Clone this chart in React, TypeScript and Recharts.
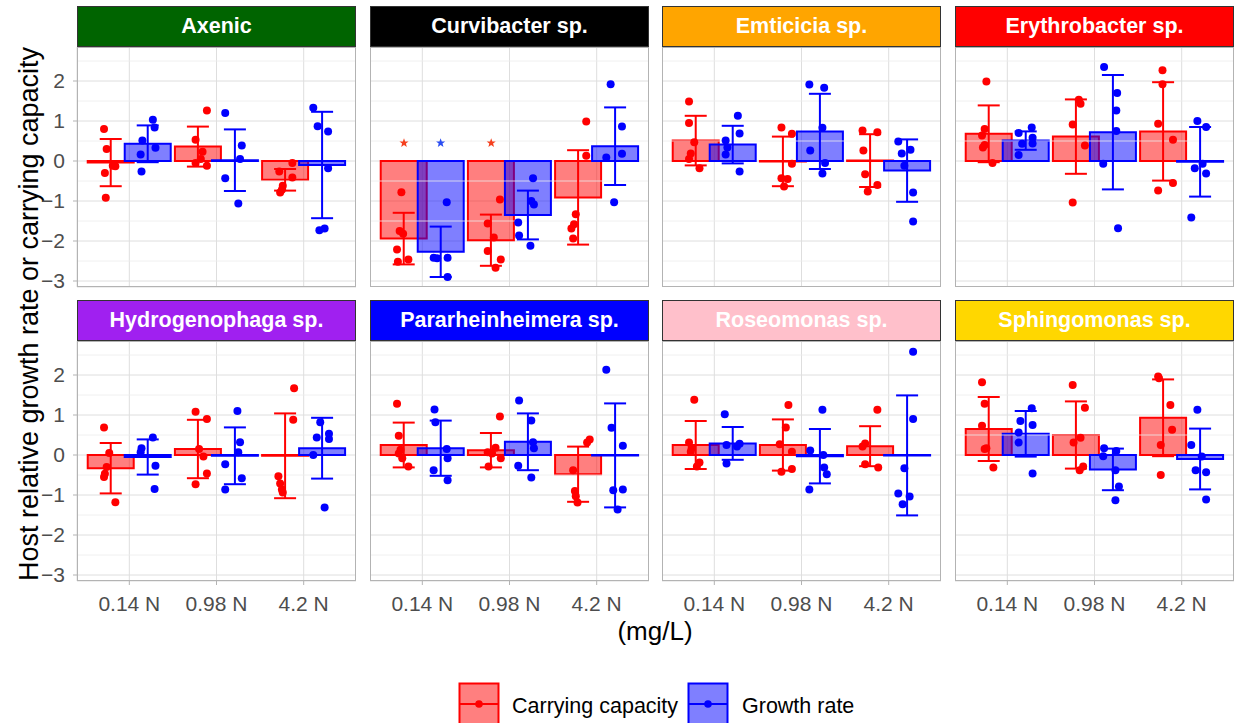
import React from "react";
import {
  ComposedChart,
  Bar,
  ErrorBar,
  Scatter,
  XAxis,
  YAxis,
  CartesianGrid,
  ReferenceLine,
} from "recharts";

const FONT = '"Liberation Sans", Arial, Helvetica, sans-serif';

// ---------- data ----------
const categories = ["0.14 N", "0.98 N", "4.2 N"];
const panelNames = [
  "Axenic",
  "Curvibacter sp.",
  "Emticicia sp.",
  "Erythrobacter sp.",
  "Hydrogenophaga sp.",
  "Pararheinheimera sp.",
  "Roseomonas sp.",
  "Sphingomonas sp.",
];
const stripColors = ["#006400", "#000000", "#FFA500", "#FF0000", "#A020F0", "#0000FF", "#FFC0CB", "#FFD700"];
const seriesNames = ["Carrying capacity", "Growth rate"];
const seriesColors = ["#FF0000", "#0000FF"];
const yTicks = [-3, -2, -1, 0, 1, 2];
const yMinorTicks = [-2.5, -1.5, -0.5, 0.5, 1.5, 2.5];
const yDomain = [-3.15, 2.85];

// bar heights (means) per panel, per category
const capacityMean = [
  [-0.04, 0.36, -0.47],
  [-1.94, -1.98, -0.91],
  [0.51, -0.01, 0.01],
  [0.68, 0.61, 0.74],
  [-0.33, 0.15, -0.02],
  [0.25, 0.12, -0.48],
  [0.25, 0.25, 0.22],
  [0.65, 0.5, 0.93],
];
const capacityErr = [
  [0.59, 0.5, 0.27],
  [0.645, 0.64, 1.18],
  [0.62, 0.62, 0.66],
  [0.71, 0.93, 1.23],
  [0.63, 0.73, 1.06],
  [0.56, 0.43, 0.69],
  [0.6, 0.64, 0.5],
  [0.8, 0.84, 0.96],
];
const growthMean = [
  [0.43, 0.02, -0.1],
  [-2.27, -1.35, 0.37],
  [0.41, 0.74, -0.24],
  [0.51, 0.72, -0.02],
  [-0.05, -0.02, 0.17],
  [0.17, 0.33, -0.01],
  [0.29, -0.03, -0.01],
  [0.53, -0.36, -0.1],
];
const growthErr = [
  [0.46, 0.77, 1.33],
  [0.63, 0.61, 0.97],
  [0.47, 0.94, 0.78],
  [0.23, 1.43, 0.87],
  [0.44, 0.71, 0.76],
  [0.69, 0.71, 1.3],
  [0.41, 0.68, 1.5],
  [0.57, 0.52, 0.76],
];

// individual replicates: [x position (category units), value]
const capacityPoints = [
  [[0.71, 0.8], [0.74, 0.3], [0.81, -0.12], [0.84, -0.13], [0.72, -0.3], [0.73, -0.92],
   [1.89, 1.26], [1.76, 0.53], [1.84, 0.23], [1.82, 0.05], [1.76, -0.05], [1.89, -0.12],
   [2.87, -0.05], [2.72, -0.26], [2.87, -0.41], [2.76, -0.62], [2.75, -0.72], [2.73, -0.79]],
  [[0.76, -0.78], [0.74, -1.75], [0.78, -1.82], [0.71, -2.21], [0.84, -2.46], [0.72, -2.52],
   [1.89, -0.96], [1.75, -1.56], [1.82, -1.91], [1.75, -2.25], [1.9, -2.46], [1.84, -2.67],
   [2.88, 0.99], [2.88, 0.13], [2.76, -1.33], [2.74, -1.58], [2.71, -1.69], [2.73, -1.94]],
  [[0.71, 1.49], [0.71, 0.95], [0.77, 0.47], [0.73, 0.19], [0.71, 0.05], [0.83, -0.18],
   [1.77, 0.84], [1.89, 0.68], [1.89, -0.07], [1.77, -0.43], [1.84, -0.45], [1.8, -0.64],
   [2.7, 0.76], [2.87, 0.72], [2.71, 0.26], [2.73, -0.33], [2.87, -0.6], [2.76, -0.76]],
  [[0.76, 1.99], [0.74, 0.8], [0.71, 0.64], [0.74, 0.4], [0.72, 0.34], [0.83, -0.05],
   [1.82, 1.53], [1.84, 1.43], [1.75, 0.91], [1.89, 0.39], [1.75, -1.04],
   [2.78, 2.27], [2.78, 1.92], [2.73, 0.93], [2.9, 0.53], [2.9, -0.55], [2.73, -0.74]],
  [[0.71, 0.69], [0.77, 0.05], [0.74, -0.3], [0.72, -0.47], [0.71, -0.55], [0.84, -1.18],
   [1.76, 1.08], [1.89, 0.9], [1.8, 0.15], [1.85, -0.04], [1.89, -0.46], [1.76, -0.73],
   [2.89, 1.67], [2.88, 0.88], [2.71, -0.53], [2.73, -0.71], [2.75, -0.86], [2.76, -0.94]],
  [[0.71, 1.28], [0.73, 0.48], [0.75, 0.13], [0.73, 0.04], [0.77, -0.08], [0.84, -0.29],
   [1.89, 0.96], [1.84, 0.18], [1.75, 0.07], [1.8, 0.04], [1.9, -0.08], [1.76, -0.29],
   [2.92, 0.39], [2.89, 0.31], [2.73, -0.38], [2.75, -0.9], [2.76, -1.03], [2.78, -1.19]],
  [[0.77, 1.38], [0.71, 0.31], [0.74, 0.17], [0.73, 0.08], [0.83, -0.19], [0.8, -0.29],
   [1.85, 1.25], [1.82, 0.69], [1.75, 0.27], [1.89, 0.08], [1.89, -0.35], [1.77, -0.42],
   [2.87, 1.13], [2.73, 0.29], [2.7, 0.21], [2.73, -0.23], [2.88, -0.31]],
  [[0.71, 1.82], [0.74, 1.28], [0.71, 0.73], [0.76, 0.17], [0.74, 0.15], [0.84, -0.31],
   [1.75, 1.75], [1.89, 1.18], [1.84, 0.43], [1.76, 0.31], [1.87, -0.29], [1.83, -0.38],
   [2.73, 1.96], [2.74, 1.92], [2.87, 1.25], [2.89, 0.63], [2.76, 0.25], [2.76, -0.5]],
];
const growthPoints = [
  [[1.27, 1.03], [1.29, 0.84], [1.15, 0.51], [1.3, 0.33], [1.13, 0.16], [1.14, -0.26],
   [2.1, 1.2], [2.29, 0.39], [2.27, 0.05], [2.1, -0.43], [2.25, -1.06],
   [3.11, 1.33], [3.16, 0.87], [3.28, 0.74], [3.28, -0.18], [3.18, -1.73], [3.24, -1.69]],
  [[1.28, -1.03], [1.13, -2.42], [1.29, -2.42], [1.17, -2.43], [1.29, -2.9],
   [2.27, -0.43], [2.25, -1.0], [2.28, -1.09], [2.1, -1.54], [2.11, -1.86], [2.24, -2.12],
   [3.16, 1.92], [3.29, 0.86], [3.29, 0.18], [3.11, 0.09], [3.2, -1.03]],
  [[1.27, 1.13], [1.29, 0.69], [1.13, 0.51], [1.15, 0.34], [1.13, 0.16], [1.29, -0.26],
   [2.09, 1.91], [2.26, 1.83], [2.24, 0.83], [2.1, 0.26], [2.27, -0.05], [2.24, -0.31],
   [3.11, 0.49], [3.25, 0.28], [3.15, 0.19], [3.18, -0.12], [3.28, -0.79], [3.28, -1.51]],
  [[1.28, 0.84], [1.13, 0.7], [1.29, 0.58], [1.17, 0.43], [1.29, 0.44], [1.13, 0.15],
   [2.11, 2.35], [2.26, 1.7], [2.25, 1.26], [2.25, 0.75], [2.1, -0.07], [2.27, -1.68],
   [3.18, 1.0], [3.28, 0.85], [3.24, -0.07], [3.15, -0.18], [3.28, -0.31], [3.11, -1.41]],
  [[1.27, 0.44], [1.14, 0.17], [1.13, 0.07], [1.3, -0.27], [1.29, -0.85],
   [2.24, 1.1], [2.27, 0.32], [2.25, 0.07], [2.1, -0.23], [2.29, -0.58], [2.1, -0.86],
   [3.19, 0.82], [3.29, 0.53], [3.15, 0.44], [3.29, 0.4], [3.11, 0.0], [3.24, -1.31]],
  [[1.14, 1.14], [1.15, 0.82], [1.28, 0.15], [1.29, -0.08], [1.13, -0.38], [1.29, -0.63],
   [2.11, 1.36], [2.25, 0.86], [2.27, 0.32], [2.28, 0.17], [2.1, -0.27], [2.25, -0.56],
   [3.11, 2.13], [3.17, 0.68], [3.3, 0.23], [3.19, -0.88], [3.3, -0.86], [3.24, -1.36]],
  [[1.12, 1.02], [1.29, 0.28], [1.14, 0.25], [1.26, 0.21], [1.14, -0.21],
   [2.24, 1.13], [2.1, 0.11], [2.25, 0.0], [2.26, -0.31], [2.29, -0.48], [2.09, -0.86],
   [3.28, 2.58], [3.28, 0.9], [3.18, -0.33], [3.11, -0.96], [3.24, -1.04], [3.16, -1.23]],
  [[1.28, 1.17], [1.15, 0.85], [1.29, 0.75], [1.13, 0.56], [1.13, 0.31], [1.29, -0.46],
   [2.11, 0.17], [2.25, 0.1], [2.1, -0.03], [2.24, -0.38], [2.28, -0.79], [2.24, -1.13],
   [3.18, 1.13], [3.11, 0.25], [3.23, -0.04], [3.16, -0.38], [3.28, -0.43], [3.28, -1.11]],
];

// significance stars (Curvibacter sp. panel only)
const starPanel = 1;
const capacityStars = [[0.79, 0.45], [1.79, 0.45]];
const growthStars = [[1.21, 0.45]];
const starColors = ["#F5401E", "#2A4DF2"];

// ---------- layout ----------
const PX = [77, 370, 662, 955];
const PY = [47, 341];
const PW = 279;
const PH = 240;
const Y_AXIS_W = 60;
const X_AXIS_H = 40;
const Y_LABEL_ROOM = 14;
const CAT_PAD = PW * 0.03125;
const GRID_MAJOR = "#DEDEDE";
const GRID_MINOR = "#ECECEC";
const BORDER = "#B3B3B3";
const TICK_TEXT = "#4D4D4D";

const fmt = (v: number) => String(v).replace("-", "\u2212");

const dotShape = (color: string) => (p: any) =>
  p.cx == null ? <g /> : <circle cx={p.cx} cy={p.cy} r={4} fill={color} />;

const starPath = (cx: number, cy: number, ro: number, ri: number) => {
  const pts: string[] = [];
  for (let k = 0; k < 10; k++) {
    const r = k % 2 === 0 ? ro : ri;
    const a = -Math.PI / 2 + (k * Math.PI) / 5;
    pts.push(`${(cx + r * Math.cos(a)).toFixed(2)},${(cy + r * Math.sin(a)).toFixed(2)}`);
  }
  return pts.join(" ");
};

const starShape = (color: string) => (p: any) =>
  p.cx == null ? <g /> : <polygon points={starPath(p.cx, p.cy, 4.8, 2.0)} fill={color} />;

function Panel({ idx }: { idx: number }) {
  const row = Math.floor(idx / 4);
  const col = idx % 4;
  const rows = categories.map((c, i) => ({
    cat: c,
    cap: capacityMean[idx][i],
    capErr: capacityErr[idx][i],
    gr: growthMean[idx][i],
    grErr: growthErr[idx][i],
  }));
  const capPts = capacityPoints[idx].map(([x, y]) => ({ x, y }));
  const grPts = growthPoints[idx].map(([x, y]) => ({ x, y }));
  const capStars = idx === starPanel ? capacityStars.map(([x, y]) => ({ x, y })) : [];
  const grStars = idx === starPanel ? growthStars.map(([x, y]) => ({ x, y })) : [];

  const showY = col === 0;
  const showX = row === 1;
  const extraBottom = showX ? X_AXIS_H : showY ? Y_LABEL_ROOM : 0;
  const w = PW + (showY ? Y_AXIS_W : 0);
  const h = PH + extraBottom;
  const left = PX[col] - (showY ? Y_AXIS_W : 0);
  const top = PY[row];

  return (
    <>
      <div
        style={{
          position: "absolute",
          left: PX[col],
          top: top - 41,
          width: PW,
          height: 41,
          boxSizing: "border-box",
          border: "1px solid #333333",
          background: stripColors[idx],
          color: "#FFFFFF",
          fontFamily: FONT,
          fontWeight: 700,
          fontSize: 21.5,
          display: "flex",
          alignItems: "center",
          justifyContent: "center",
          lineHeight: 1,
        }}
      >
        {panelNames[idx]}
      </div>
      <div style={{ position: "absolute", left, top, width: w, height: h }}>
        <ComposedChart
          width={w}
          height={h}
          data={rows}
          margin={{ top: 0, right: 0, bottom: showX ? 0 : extraBottom, left: 0 }}
          barGap={-9}
        >
          <CartesianGrid xAxisId="cat" stroke={GRID_MAJOR} strokeWidth={1} />
          {yMinorTicks.map((v) => (
            <ReferenceLine key={v} xAxisId="num" y={v} stroke={GRID_MINOR} strokeWidth={0.8} />
          ))}
          <XAxis
            xAxisId="cat"
            dataKey="cat"
            type="category"
            padding={{ left: CAT_PAD, right: CAT_PAD }}
            hide={!showX}
            height={X_AXIS_H}
            axisLine={false}
            tickLine={{ stroke: BORDER }}
            tickSize={4}
            tickMargin={11}
            interval={0}
            tick={{ fill: TICK_TEXT, fontSize: 21, fontFamily: FONT }}
          />
          <XAxis xAxisId="num" type="number" dataKey="x" domain={[0.4, 3.6]} allowDataOverflow hide />
          <YAxis
            type="number"
            domain={yDomain}
            ticks={yTicks}
            allowDataOverflow
            hide={!showY}
            width={Y_AXIS_W}
            axisLine={false}
            tickLine={{ stroke: BORDER }}
            tickSize={4}
            tickMargin={8}
            interval={0}
            tickFormatter={fmt}
            tick={{ fill: TICK_TEXT, fontSize: 21, fontFamily: FONT }}
          />
          <Bar
            xAxisId="cat"
            dataKey="cap"
            name={seriesNames[0]}
            barSize={46}
            fill={seriesColors[0]}
            fillOpacity={0.5}
            stroke={seriesColors[0]}
            strokeWidth={2}
            isAnimationActive={false}
          >
            <ErrorBar dataKey="capErr" direction="y" width={11} stroke={seriesColors[0]} strokeWidth={2} isAnimationActive={false} />
          </Bar>
          <Bar
            xAxisId="cat"
            dataKey="gr"
            name={seriesNames[1]}
            barSize={46}
            fill={seriesColors[1]}
            fillOpacity={0.5}
            stroke={seriesColors[1]}
            strokeWidth={2}
            isAnimationActive={false}
          >
            <ErrorBar dataKey="grErr" direction="y" width={11} stroke={seriesColors[1]} strokeWidth={2} isAnimationActive={false} />
          </Bar>
          <Scatter xAxisId="num" data={capPts} dataKey="y" shape={dotShape(seriesColors[0])} isAnimationActive={false} />
          <Scatter xAxisId="num" data={grPts} dataKey="y" shape={dotShape(seriesColors[1])} isAnimationActive={false} />
          {capStars.length > 0 && (
            <Scatter xAxisId="num" data={capStars} dataKey="y" shape={starShape(starColors[0])} isAnimationActive={false} />
          )}
          {grStars.length > 0 && (
            <Scatter xAxisId="num" data={grStars} dataKey="y" shape={starShape(starColors[1])} isAnimationActive={false} />
          )}
        </ComposedChart>
      </div>
      <div
        style={{
          position: "absolute",
          left: PX[col],
          top,
          width: PW,
          height: PH,
          boxSizing: "border-box",
          border: `1px solid ${BORDER}`,
          pointerEvents: "none",
        }}
      />
    </>
  );
}

function Titles() {
  const keyX = [459.5, 688.5];
  const textX = [512, 742];
  return (
    <svg width={1238} height={723} style={{ position: "absolute", left: 0, top: 0 }}>
      <text
        x={0}
        y={0}
        transform="translate(38 314) rotate(-90)"
        textAnchor="middle"
        fontSize={27}
        fontFamily={FONT}
        fill="#000"
      >
        Host relative growth rate or carrying capacity
      </text>
      <text x={655} y={640} textAnchor="middle" fontSize={26} fontFamily={FONT} fill="#000">
        (mg/L)
      </text>
      {seriesNames.map((name, i) => (
        <g key={name}>
          <rect
            x={keyX[i]}
            y={683.5}
            width={39}
            height={42}
            fill={seriesColors[i]}
            fillOpacity={0.5}
            stroke={seriesColors[i]}
            strokeWidth={2}
          />
          <line x1={keyX[i]} x2={keyX[i] + 39} y1={704} y2={704} stroke={seriesColors[i]} strokeWidth={2} />
          <circle cx={keyX[i] + 19.5} cy={704} r={3.8} fill={seriesColors[i]} />
          <text x={textX[i]} y={712.5} fontSize={21.5} fontFamily={FONT} fill="#000">
            {name}
          </text>
        </g>
      ))}
    </svg>
  );
}

export default function App() {
  return (
    <div
      style={{
        position: "absolute",
        left: 0,
        top: 0,
        width: 1238,
        height: 723,
        background: "#FFFFFF",
        overflow: "hidden",
        fontFamily: FONT,
      }}
    >
      <Titles />
      {panelNames.map((_, i) => (
        <Panel key={i} idx={i} />
      ))}
    </div>
  );
}
